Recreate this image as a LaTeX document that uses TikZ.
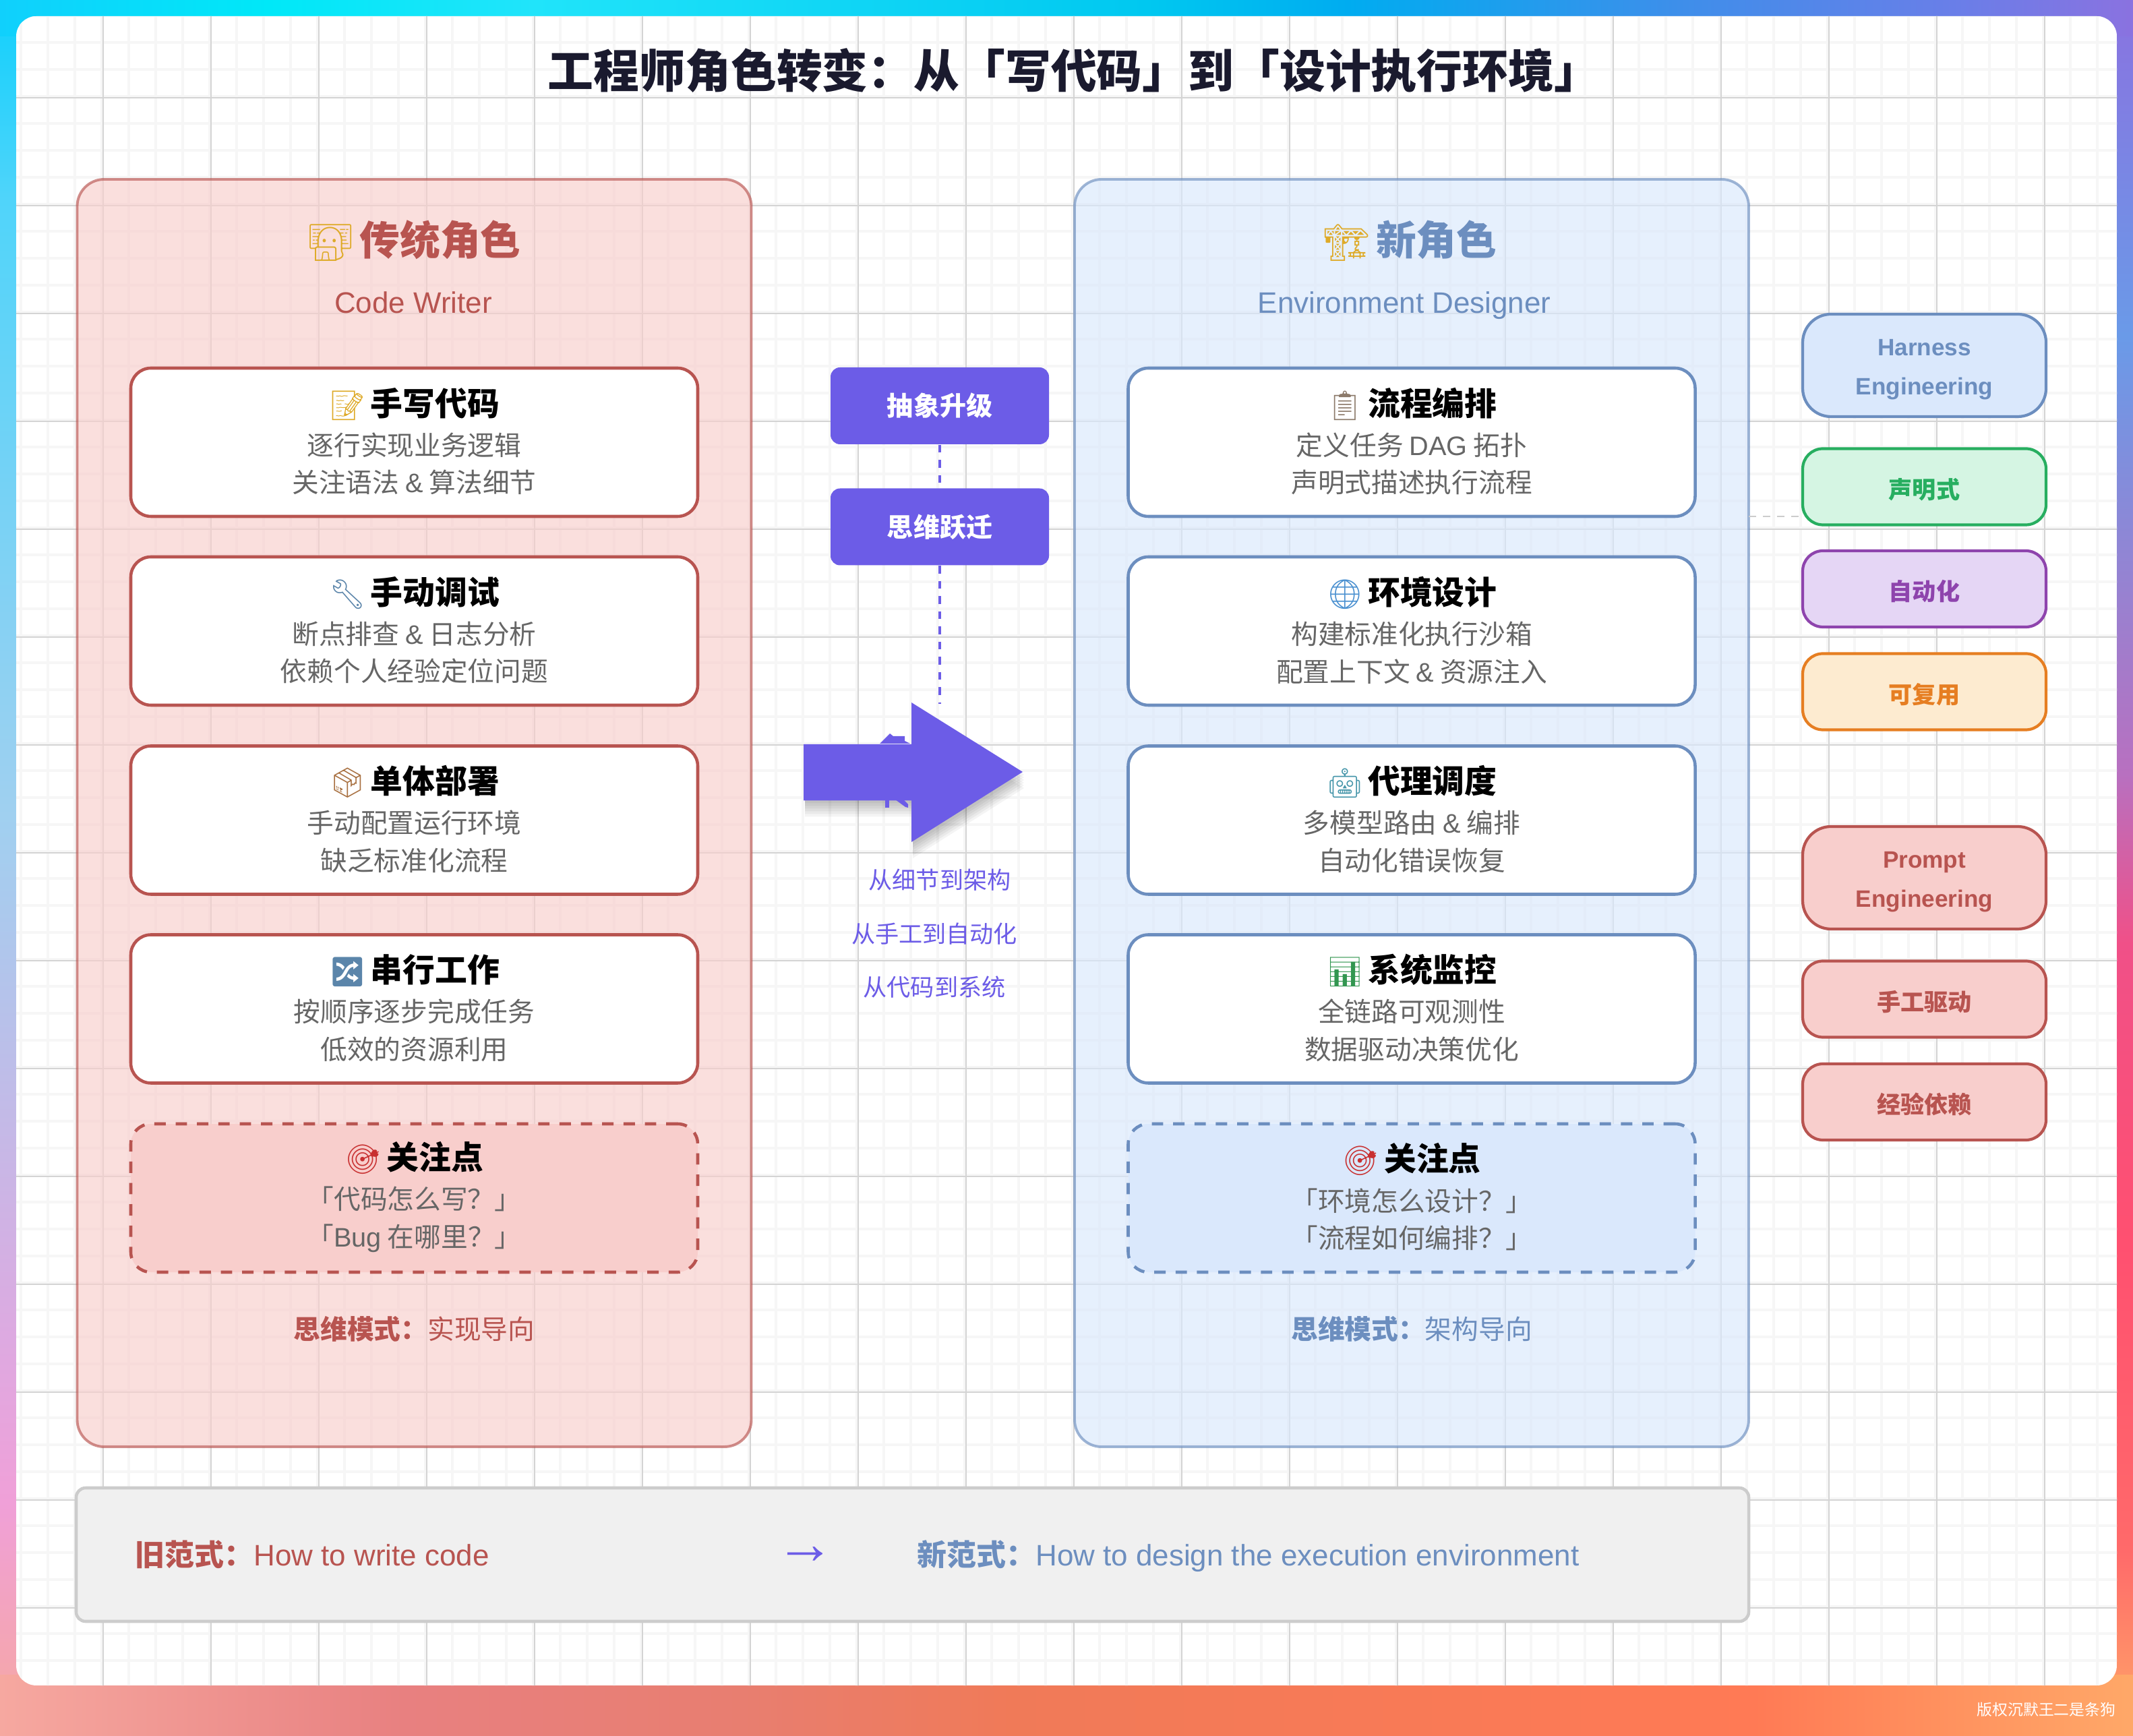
\documentclass[tikz,border=0pt]{standalone}
\usepackage{fontspec}
\usepackage{xcolor}
\usepackage{tikz}
\usetikzlibrary{positioning, arrows.meta}
\setmainfont{Noto Sans CJK SC}
\newfontfamily\latinfont{Liberation Sans}
\newfontfamily\emojifont[Scale=0.9]{Noto Emoji}
\newcommand{\en}[1]{{\latinfont #1}}
\newcommand{\emo}[2]{{\emojifont\color{#1}#2}}
\newcommand{\drop}[2]{\raisebox{-#1}[\height][\depth]{#2}}
\newcommand{\lift}[2]{\raisebox{#1}[\height][\depth]{#2}}
\newcommand{\headsize}{\fontsize{13.6}{17}\selectfont}
\newcommand{\descsize}{\fontsize{11.3}{15.9}\selectfont}
\newcommand{\panelsize}{\fontsize{17}{20}\selectfont}
\newcommand{\subsize}{\fontsize{12.5}{15}\selectfont}
\newcommand{\tagsize}{\fontsize{10}{16.5}\selectfont}
\newcommand{\cardtext}[3]{{\headsize\bfseries #1}\\[1.7pt]{\color{descgray}\lift{.8pt}{#2}}\\{\color{descgray}\lift{.8pt}{#3}}}
\definecolor{oldred}{RGB}{184, 84, 80}
\definecolor{oldfill}{RGB}{248, 206, 204}
\definecolor{newblue}{RGB}{108, 142, 191}
\definecolor{newfill}{RGB}{218, 232, 252}
\definecolor{shiftviolet}{RGB}{108, 92, 231}
\definecolor{titleink}{RGB}{26, 26, 46}
\definecolor{descgray}{RGB}{102, 102, 102}
\definecolor{barfill}{RGB}{240, 240, 240}
\definecolor{barline}{RGB}{204, 204, 204}
\definecolor{gridmajor}{RGB}{212, 212, 212}
\definecolor{gridminor}{RGB}{246, 246, 246}
\definecolor{declgreen}{RGB}{39, 174, 96}
\definecolor{declfill}{RGB}{213, 245, 227}
\definecolor{autopurple}{RGB}{142, 68, 173}
\definecolor{autofill}{RGB}{229, 214, 245}
\definecolor{reuseorange}{RGB}{230, 126, 34}
\definecolor{reusefill}{RGB}{253, 235, 208}
\definecolor{emogold}{RGB}{222, 170, 40}
\definecolor{emosteel}{RGB}{91, 133, 170}
\definecolor{emobrown}{RGB}{168, 112, 64}
\definecolor{emored}{RGB}{200, 48, 48}
\definecolor{emotan}{RGB}{140, 122, 106}
\definecolor{emosky}{RGB}{74, 144, 208}
\definecolor{emoteal}{RGB}{70, 150, 170}
\definecolor{emogreen}{RGB}{50, 150, 80}
\definecolor{eA}{RGB}{16, 208, 252}\definecolor{eB}{RGB}{0, 232, 248}\definecolor{eC}{RGB}{32, 228, 250}
\definecolor{eD}{RGB}{0, 200, 240}\definecolor{eE}{RGB}{0, 172, 240}\definecolor{eF}{RGB}{63, 142, 234}
\definecolor{eG}{RGB}{106, 126, 232}\definecolor{eH}{RGB}{138, 114, 224}
\definecolor{eI}{RGB}{80, 212, 250}\definecolor{eJ}{RGB}{160, 208, 240}\definecolor{eK}{RGB}{224, 168, 224}
\definecolor{eL}{RGB}{240, 160, 216}\definecolor{eM}{RGB}{246, 168, 160}
\definecolor{eN}{RGB}{106, 154, 232}\definecolor{eO}{RGB}{184, 112, 192}\definecolor{eP}{RGB}{240, 80, 136}
\definecolor{eQ}{RGB}{255, 80, 112}\definecolor{eR}{RGB}{255, 106, 106}\definecolor{eS}{RGB}{255, 168, 104}
\definecolor{eT}{RGB}{232, 128, 128}\definecolor{eU}{RGB}{232, 126, 112}\definecolor{eV}{RGB}{240, 122, 88}
\definecolor{eW}{RGB}{255, 122, 85}
\pgfdeclarehorizontalshading{topstrip}{100bp}{color(0bp)=(eA); color(25bp)=(eA); color(31.3bp)=(eB); color(37.5bp)=(eC); color(51.9bp)=(eD); color(56.6bp)=(eE); color(64.5bp)=(eF); color(70.9bp)=(eG); color(75bp)=(eH); color(100bp)=(eH)}
\pgfdeclareverticalshading{leftstrip}{100bp}{color(0bp)=(eM); color(25bp)=(eM); color(31.7bp)=(eL); color(35.8bp)=(eK); color(51.5bp)=(eJ); color(69.2bp)=(eI); color(75bp)=(eA); color(100bp)=(eA)}
\pgfdeclareverticalshading{rightstrip}{100bp}{color(0bp)=(eS); color(25bp)=(eS); color(30.3bp)=(eR); color(39.1bp)=(eQ); color(47.8bp)=(eP); color(52.7bp)=(eO); color(65.3bp)=(eN); color(75bp)=(eH); color(100bp)=(eH)}
\pgfdeclarehorizontalshading{bottomstrip}{100bp}{color(0bp)=(eM); color(25bp)=(eM); color(34.5bp)=(eT); color(42.4bp)=(eU); color(48.7bp)=(eV); color(66.1bp)=(eW); color(75bp)=(eS); color(100bp)=(eS)}
\tikzset{
  panelbox/.style 2 args={draw=#1, fill=#2, draw opacity=.65, fill opacity=.65, line width=1.1pt, rounded corners=.4cm, minimum width=10cm, minimum height=18.8cm},
  cardbox/.style={draw=#1, fill=white, line width=1.3pt, rounded corners=.3cm, minimum width=8.41cm, minimum height=2.2cm, align=center, inner sep=0pt, font=\descsize},
  focusbox/.style 2 args={draw=#1, fill=#2, line width=1.3pt, dash pattern=on 4.8pt off 4.2pt, rounded corners=.3cm, minimum width=8.41cm, minimum height=2.2cm, align=center, inner sep=0pt, font=\descsize},
  tagbox/.style 2 args={draw=#1, fill=#2, text=#1, line width=1.2pt, rounded corners=.3cm, minimum width=3.61cm, minimum height=1.13cm, align=center, inner sep=0pt, font=\tagsize\bfseries},
  bigtag/.style={minimum height=1.52cm, rounded corners=.42cm},
  stepbadge/.style={fill=shiftviolet, text=white, rounded corners=.14cm, minimum width=3.24cm, minimum height=1.14cm, inner sep=0pt, font=\fontsize{11.1}{14}\selectfont\bfseries},
  stepnote/.style={text=shiftviolet, inner sep=0pt, font=\fontsize{10}{13}\selectfont},
  flowdash/.style={draw=shiftviolet, line width=1.2pt, dash pattern=on 3.3pt off 3.1pt},
  linkdash/.style={draw=barline, line width=.8pt, dash pattern=on 3pt off 3pt},
}
\newcommand{\turnshape}{(11.92,14.7) -- (13.52,14.7) -- (13.52,15.32) -- (15.17,14.29) -- (13.52,13.25) -- (13.52,13.865) -- (11.92,13.865) -- cycle}
\begin{document}
\begin{tikzpicture}
\useasboundingbox (0,0) rectangle (31.64,25.74);
% frame
\shade[shading=rightstrip] (31,0) rectangle (31.64,25.74);
\shade[shading=leftstrip] (0,0) rectangle (.6,25.74);
\shade[shading=topstrip] (0,25.2) rectangle (31.64,25.74);
\shade[shading=bottomstrip] (0,0) rectangle (31.64,.9);
\begin{scope}
\clip[rounded corners=.3cm] (.24,.74) rectangle (31.4,25.5);
\fill[white] (.24,.74) rectangle (31.4,25.5);
\draw[gridminor, line width=.036cm, shift={(.31,.31)}, step=.4] (-1,0) grid (31.2,25.6);
\draw[gridmajor, line width=.018cm, shift={(1.53,.29)}, step=1.6] (-2,0) grid (30,25.6);
\end{scope}

\node[inner sep=0pt, text=titleink, font=\fontsize{19.3}{22}\selectfont\bfseries] (maintitle) at (15.93,24.69) {工程师角色转变：从「写代码」到「设计执行环境」};

% two role panels
\node[panelbox={oldred}{oldfill}] (oldpanel) at (6.145,13.68) {};
\node[panelbox={newblue}{newfill}] (newpanel) at (20.94,13.68) {};
\node[inner sep=0pt, text=oldred, font=\panelsize\bfseries] (oldname) at (6.145,22.17) {\emo{emogold}{👨‍💻}\hspace{.15em}传统角色};
\node[inner sep=0pt, text=newblue, font=\panelsize\bfseries] (newname) at (20.92,22.17) {\emo{emogold}{🏗}\hspace{.15em}新角色};
\node[anchor=base, inner sep=0pt, text=oldred, font=\subsize\latinfont] (oldsub) at (6.13,21.09) {Code Writer};
\node[anchor=base, inner sep=0pt, text=newblue, font=\subsize\latinfont] (newsub) at (20.83,21.09) {Environment Designer};

\foreach \i/\y/\ic/\ti/\la/\lb in {
  1/19.18/{\emo{emogold}{📝}}/手写代码/逐行实现业务逻辑/{关注语法 \en{\&} 算法细节},
  2/16.38/{\emo{emosteel}{🔧}}/手动调试/{断点排查 \en{\&} 日志分析}/依赖个人经验定位问题,
  3/13.575/{\emo{emobrown}{📦}}/单体部署/手动配置运行环境/缺乏标准化流程,
  4/10.775/{\emo{emosteel}{🔀}}/串行工作/按顺序逐步完成任务/低效的资源利用}
  \node[cardbox=oldred] (oldcard\i) at (6.145,\y) {\cardtext{\ic\hspace{.15em}\ti}{\la}{\lb}};
\foreach \i/\y/\ic/\ti/\la/\lb in {
  1/19.18/{\emo{emotan}{📋}}/流程编排/{定义任务 \en{DAG} 拓扑}/声明式描述执行流程,
  2/16.38/{\emo{emosky}{🌐}}/环境设计/构建标准化执行沙箱/{配置上下文 \en{\&} 资源注入},
  3/13.575/{\emo{emoteal}{🤖}}/代理调度/{多模型路由 \en{\&} 编排}/自动化错误恢复,
  4/10.775/{\emo{emogreen}{📊}}/系统监控/全链路可观测性/数据驱动决策优化}
  \node[cardbox=newblue] (newcard\i) at (20.94,\y) {\cardtext{\ic\hspace{.15em}\ti}{\la}{\lb}};

\node[focusbox={oldred}{oldfill}] (oldfocus) at (6.145,7.97) {\cardtext{\emo{emored}{🎯}\hspace{.15em}关注点}{「代码怎么写？」}{「\en{Bug} 在哪里？」}};
\node[focusbox={newblue}{newfill}] (newfocus) at (20.94,7.97) {\cardtext{\emo{emored}{🎯}\hspace{.15em}关注点}{「环境怎么设计？」}{「流程如何编排？」}};
\node[inner sep=0pt, text=oldred, font=\descsize] (oldmode) at (6.145,6.03) {\textbf{思维模式：}实现导向};
\node[inner sep=0pt, text=newblue, font=\descsize] (newmode) at (20.94,6.03) {\textbf{思维模式：}架构导向};

% centre column
\node[stepbadge] (liftbadge) at (13.94,19.72) {抽象升级};
\node[stepbadge] (leapbadge) at (13.94,17.925) {思维跃迁};
\coordinate (flowend) at (13.94,15.3);
\draw[flowdash] (liftbadge.south) -- (leapbadge.north);
\draw[flowdash] (leapbadge.south) -- (flowend);
\foreach \s in {.04,.08,...,.28}
  \fill[black, opacity=.045, shift={(.02,-\s)}] \turnshape;
\fill[shiftviolet] (13.05,14.71) -- (13.2,14.86) -- (13.25,14.82) -- (13.42,14.82) -- (13.42,14.75) -- (13.5,14.71) -- cycle;
\fill[shiftviolet] (13.13,13.88) -- (13.19,13.88) -- (13.19,13.76) -- (13.13,13.76) -- cycle;
\fill[shiftviolet] (13.28,13.88) -- (13.4,13.88) -- (13.47,13.81) -- (13.47,13.76) -- (13.43,13.77) -- cycle;
\fill[shiftviolet] \turnshape;
\node[stepnote] (note1) at (13.94,12.69) {从细节到架构};
\node[stepnote] (note2) at (13.86,11.89) {从手工到自动化};
\node[stepnote] (note3) at (13.86,11.1) {从代码到系统};

% side tags
\node[tagbox={newblue}{newfill}, bigtag] (harnesstag) at (28.545,20.32) {\drop{1.7pt}{\en{Harness}}\\\drop{1.7pt}{\en{Engineering}}};
\node[tagbox={declgreen}{declfill}] (decltag) at (28.545,18.52) {\drop{1.1pt}{声明式}};
\node[tagbox={autopurple}{autofill}] (autotag) at (28.545,17.005) {\drop{1.1pt}{自动化}};
\node[tagbox={reuseorange}{reusefill}] (reusetag) at (28.545,15.48) {\drop{1.1pt}{可复用}};
\node[tagbox={oldred}{oldfill}, bigtag] (prompttag) at (28.545,12.72) {\drop{1.7pt}{\en{Prompt}}\\\drop{1.7pt}{\en{Engineering}}};
\node[tagbox={oldred}{oldfill}] (manualtag) at (28.545,10.92) {\drop{1.1pt}{手工驱动}};
\node[tagbox={oldred}{oldfill}] (relytag) at (28.545,9.395) {\drop{1.1pt}{经验依赖}};
\coordinate (linkfrom) at (25.94,18.08);
\coordinate (linkto) at (26.74,18.08);
\draw[linkdash] (linkfrom) -- (linkto);

% paradigm bar
\node[draw=barline, fill=barfill, line width=1.3pt, rounded corners=.14cm, minimum width=24.81cm, minimum height=1.98cm] (paradigm) at (13.535,2.68) {};
\node[anchor=base west, inner sep=0pt, text=oldred, font=\subsize] (oldway) at (2.0,2.52) {\textbf{旧范式：}\en{How to write code}};
\node[anchor=base west, inner sep=0pt, text=newblue, font=\subsize] (newway) at (13.6,2.52) {\textbf{新范式：}\en{How to design the execution environment}};
\node[inner sep=0pt, text=shiftviolet, font=\fontsize{25}{28}\selectfont\latinfont\bfseries] (wayarrow) at (11.94,2.67) {→};

\node[anchor=east, inner sep=0pt, text=white, font=\fontsize{6.5}{8}\selectfont] (signmark) at (31.39,.38) {版权沉默王二是条狗};
\end{tikzpicture}
\end{document}
